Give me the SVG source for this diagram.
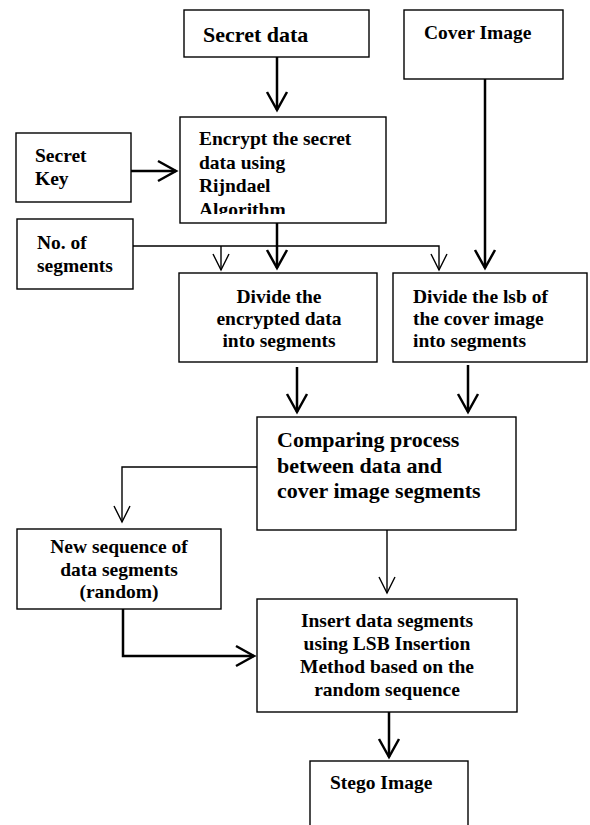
<svg xmlns="http://www.w3.org/2000/svg" width="590" height="825" viewBox="0 0 590 825">
<style>
.box{fill:#fff;stroke:#000;stroke-width:1.4}
.t{font-family:"Liberation Serif","Times New Roman",serif;font-weight:bold;font-size:19.5px;fill:#000}
.big{font-size:22px}
.mid{text-anchor:middle}
.thick{fill:none;stroke:#000;stroke-width:2.5}
.thin{fill:none;stroke:#000;stroke-width:1.4}
</style>
<defs>
<marker id="ahk" markerUnits="userSpaceOnUse" viewBox="-20 -15 30 30" markerWidth="30" markerHeight="30" refX="0" refY="0" orient="auto" overflow="visible">
<path d="M-18,-10 L0,0 L-18,10" fill="none" stroke="#000" stroke-width="2.5"/>
</marker>
<marker id="ahn" markerUnits="userSpaceOnUse" viewBox="-20 -15 30 30" markerWidth="30" markerHeight="30" refX="0" refY="0" orient="auto" overflow="visible">
<path d="M-16,-8 L0,0 L-16,8" fill="none" stroke="#000" stroke-width="1.4"/>
</marker>
<clipPath id="encClip"><rect x="180" y="117" width="206" height="97"/></clipPath>
</defs>

<g id="connectors">
<path class="thick" d="M277,57 V110" marker-end="url(#ahk)"/>
<path class="thick" d="M131,171 H176" marker-end="url(#ahk)"/>
<path class="thick" d="M485,79 V268" marker-end="url(#ahk)"/>
<path class="thick" d="M277,223 V268" marker-end="url(#ahk)"/>
<path class="thin" d="M133,246 H439 V270" marker-end="url(#ahn)"/>
<path class="thin" d="M221,246 V270" marker-end="url(#ahn)"/>
<path class="thick" d="M297,367 V412" marker-end="url(#ahk)"/>
<path class="thick" d="M468,365 V412" marker-end="url(#ahk)"/>
<path class="thin" d="M257,467 H122 V522" marker-end="url(#ahn)"/>
<path class="thin" d="M387,530 V593" marker-end="url(#ahn)"/>
<path class="thick" d="M123,609 V656 H254" marker-end="url(#ahk)"/>
<path class="thick" d="M389,712 V757" marker-end="url(#ahk)"/>
</g>

<g id="secret-data">
<rect class="box" x="184" y="10" width="185" height="47"/>
<text class="t big" x="203" y="42">Secret data</text>
</g>

<g id="cover-image">
<rect class="box" x="404" y="10" width="159" height="69"/>
<text class="t" x="424" y="39">Cover Image</text>
</g>

<g id="secret-key">
<rect class="box" x="16" y="133" width="115" height="69"/>
<text class="t" x="35" y="162">Secret</text>
<text class="t" x="35" y="185">Key</text>
</g>

<g id="encrypt">
<rect class="box" x="180" y="117" width="206" height="106"/>
<g clip-path="url(#encClip)">
<text class="t" x="199" y="145">Encrypt the secret</text>
<text class="t" x="199" y="168.5">data using</text>
<text class="t" x="199" y="192">Rijndael</text>
<text class="t" x="199" y="215.5">Algorithm</text>
</g>
</g>

<g id="no-of-segments">
<rect class="box" x="17" y="219" width="116" height="70"/>
<text class="t" x="37" y="249">No. of</text>
<text class="t" x="37" y="272">segments</text>
</g>

<g id="divide-encrypted">
<rect class="box" x="179" y="273" width="198" height="89"/>
<text class="t mid" x="279" y="303">Divide the</text>
<text class="t mid" x="279" y="325">encrypted data</text>
<text class="t mid" x="279" y="347">into segments</text>
</g>

<g id="divide-lsb">
<rect class="box" x="393" y="273" width="194" height="89"/>
<text class="t" x="413" y="303">Divide the lsb of</text>
<text class="t" x="413" y="325">the cover image</text>
<text class="t" x="413" y="347">into segments</text>
</g>

<g id="comparing">
<rect class="box" x="257" y="417" width="259" height="113"/>
<text class="t big" x="277" y="447">Comparing process</text>
<text class="t big" x="277" y="473">between data and</text>
<text class="t big" x="277" y="498">cover image segments</text>
</g>

<g id="new-sequence">
<rect class="box" x="17" y="529" width="204" height="80"/>
<text class="t mid" x="119" y="553">New sequence of</text>
<text class="t mid" x="119" y="576">data segments</text>
<text class="t mid" x="119" y="598">(random)</text>
</g>

<g id="insert">
<rect class="box" x="257" y="599" width="260" height="113"/>
<text class="t mid" x="387" y="627">Insert data segments</text>
<text class="t mid" x="387" y="650">using LSB Insertion</text>
<text class="t mid" x="387" y="673">Method based on the</text>
<text class="t mid" x="387" y="696">random sequence</text>
</g>

<g id="stego-image">
<rect class="box" x="310" y="761" width="158" height="80"/>
<text class="t" x="330" y="789">Stego Image</text>
</g>
</svg>
